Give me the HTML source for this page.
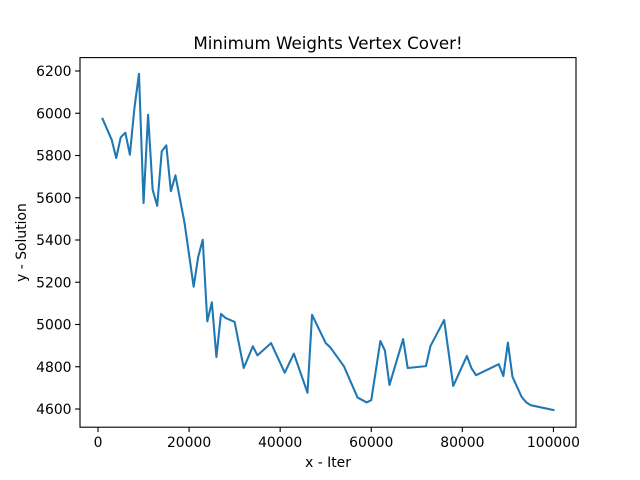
<!DOCTYPE html>
<html><head><meta charset="utf-8"><style>
body{margin:0;background:#fff}
svg{display:block;font-family:"DejaVu Sans","Liberation Sans",sans-serif}
</style></head><body>
<svg id="chart" width="640" height="480">
<rect width="640" height="480" fill="#fff"/>
<text x="328" y="49" text-anchor="middle" font-size="16.7">Minimum Weights Vertex Cover!</text>
<text x="328" y="467" text-anchor="middle" font-size="13.9">x - Iter</text>
<text transform="translate(26,242.5) rotate(-90)" text-anchor="middle" font-size="13.9">y - Solution</text>
<g id="xticks"></g>
<g id="yticks"></g>
<polyline id="line" fill="none" stroke="#1f77b4" stroke-width="2.08" stroke-linejoin="round" stroke-linecap="square"/>
<rect x="80" y="57.6" width="496" height="369.6" fill="none" stroke="#000" stroke-width="1.1"/>
</svg>
<script>
const xValues=[1000,3000,4000,5000,6000,7000,8000,9000,10000,11000,12000,13000,14000,15000,16000,17000,19000,21000,22000,23000,24000,25000,26000,27000,28000,30000,32000,34000,35000,38000,41000,43000,46000,47000,50000,51000,54000,57000,59000,60000,62000,63000,64000,67000,68000,72000,73000,76000,78000,81000,82000,83000,88000,89000,90000,91000,93000,94000,95000,100000];
const yValues=[5974,5875,5788,5886,5908,5804,6025,6187,5575,5993,5638,5562,5820,5848,5631,5706,5481,5179,5320,5401,5015,5105,4846,5050,5031,5012,4794,4897,4854,4912,4772,4862,4677,5046,4912,4892,4802,4654,4631,4642,4922,4876,4714,4931,4794,4803,4898,5021,4709,4851,4793,4760,4812,4756,4914,4753,4658,4632,4618,4595];
const xTicks=[0,20000,40000,60000,80000,100000];
const yTicks=[4600,4800,5000,5200,5400,5600,5800,6000,6200];
const NS="http://www.w3.org/2000/svg";
function sx(v){return 97.99+v*450.9/99000;}
function sy(v){return 409-(v-4600)*338/1600;}
const line=document.getElementById('line');
line.setAttribute('points',xValues.map((x,i)=>sx(x).toFixed(2)+','+sy(yValues[i]).toFixed(2)).join(' '));
const gx=document.getElementById('xticks'),gy=document.getElementById('yticks');
xTicks.forEach(t=>{
 const l=document.createElementNS(NS,'line');
 
 
 l.setAttribute('x1',sx(t));l.setAttribute('x2',sx(t));l.setAttribute('y1',427.2);l.setAttribute('y2',432.1);l.setAttribute('stroke','#000');l.setAttribute('stroke-width','1.1');
 gx.appendChild(l);
 const tx=document.createElementNS(NS,'text');
 
 
 tx.setAttribute('x',sx(t));tx.setAttribute('y',447);tx.setAttribute('text-anchor','middle');tx.setAttribute('font-size','13.9');
 tx.textContent=t;gx.appendChild(tx);
});
yTicks.forEach(t=>{
 const l=document.createElementNS(NS,'line');
 
 
 l.setAttribute('x1',75.1);l.setAttribute('x2',80);l.setAttribute('y1',sy(t));l.setAttribute('y2',sy(t));l.setAttribute('stroke','#000');l.setAttribute('stroke-width','1.1');
 gy.appendChild(l);
 const tx=document.createElementNS(NS,'text');
 
 
 tx.setAttribute('x',71.5);tx.setAttribute('y',sy(t)+5);tx.setAttribute('text-anchor','end');tx.setAttribute('font-size','13.9');
 tx.textContent=t;gy.appendChild(tx);
});
</script>
</body></html>
